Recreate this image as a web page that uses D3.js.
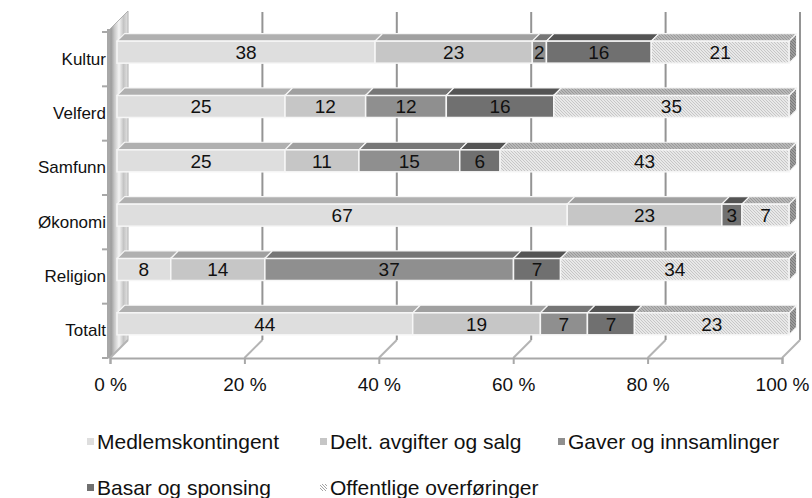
<!DOCTYPE html>
<html>
<head>
<meta charset="utf-8">
<script src="https://cdn.jsdelivr.net/npm/d3@7/dist/d3.min.js"></script>
<style>
  html, body { margin: 0; padding: 0; background: #fff; }
  svg { display: block; font-family: "Liberation Sans", Arial, sans-serif; }
</style>
</head>
<body>
<svg id="chart" width="812" height="498"></svg>
<script>
// ---- data ----
const categories = ["Kultur", "Velferd", "Samfunn", "Økonomi", "Religion", "Totalt"];
const seriesNames = ["Medlemskontingent", "Delt. avgifter og salg", "Gaver og innsamlinger", "Basar og sponsing", "Offentlige overføringer"];
const medlemskontingent = [38.4, 25, 25, 67, 8, 44];
const deltAvgifter = [23.4, 12, 11, 23, 14, 19];
const gaver = [2.1, 12, 15, 0, 37, 7];
const basar = [15.6, 16, 6, 3, 7, 7];
const offentlige = [20.5, 35, 43, 7, 34, 23];
const tickValues = [0, 20, 40, 60, 80, 100];
const tickLabels = ["0 %", "20 %", "40 %", "60 %", "80 %", "100 %"];

const seriesValues = [medlemskontingent, deltAvgifter, gaver, basar, offentlige];

// ---- layout ----
const X0 = 110, X1 = 782, YT = 32, YB = 358;
const DX = 18, DY = -18;          // full depth vector
const F0 = 0.39, F1 = 0.81;       // bar depth span (fraction of depth)
const barH = 22;

const svg = d3.select("#chart");
const defs = svg.append("defs");

const x = d3.scaleLinear().domain([0, 100]).range([X0, X1]);
const y = d3.scaleBand().domain(categories).range([YT, YB]);

const styles = [
  { front: "#dedede", top: "#b0b0b0", side: "#9a9a9a" },
  { front: "#c6c6c6", top: "#a0a0a0", side: "#8a8a8a" },
  { front: "#8f8f8f", top: "#767676", side: "#666" },
  { front: "#707070", top: "#545454", side: "#484848" },
  { front: "url(#hatchFront)", top: "url(#hatchTop)", side: "url(#hatchSide)" }
];

function hatch(id, bg, fg) {
  const p = defs.append("pattern").attr("id", id)
    .attr("patternUnits", "userSpaceOnUse").attr("width", 3).attr("height", 3);
  p.append("rect").attr("width", 3).attr("height", 3).attr("fill", bg);
  p.append("path").attr("d", "M0,0 L3,3 M-1,2 L1,4 M2,-1 L4,1")
    .attr("stroke", fg).attr("stroke-width", 0.9);
}
hatch("hatchFront", "#e8e8e8", "#c2c2c2");
hatch("hatchTop", "#b8b8b8", "#959595");
hatch("hatchSide", "#9c9c9c", "#777");
hatch("hatchLegend", "#ffffff", "#9a9a9a");

const wg = defs.append("linearGradient").attr("id", "wallGrad")
  .attr("gradientUnits", "userSpaceOnUse")
  .attr("x1", X0).attr("y1", 0).attr("x2", X0 + DX).attr("y2", 0);
[[0, "#8e8e8e"], [0.25, "#c8c8c8"], [0.5, "#f4f4f4"], [0.75, "#c4c4c4"], [1, "#e2e2e2"]]
  .forEach(([o, c]) => wg.append("stop").attr("offset", o).attr("stop-color", c));

const gridColor = "#949494";

// ---- left wall ----
svg.append("path")
  .attr("d", `M${X0},${YB} L${X0},${YT - 3} L${X0 + DX},${YT + DY - 3} L${X0 + DX},${YB + DY} Z`)
  .attr("fill", "url(#wallGrad)").attr("stroke", "#b0b0b0").attr("stroke-width", 1);
svg.append("rect").attr("x", X0 - 3).attr("y", YT - 3).attr("width", 3).attr("height", YB - YT + 3)
  .attr("fill", "#a8a8a8");

// ---- back wall gridlines ----
svg.append("g").selectAll("line").data(tickValues.filter(t => t > 0)).join("line")
  .attr("x1", d => x(d) + DX).attr("x2", d => x(d) + DX)
  .attr("y1", YT + DY - 2).attr("y2", YB + DY)
  .attr("stroke", gridColor).attr("stroke-width", 2);

// ---- floor lines ----
svg.append("g").selectAll("line").data(tickValues).join("line")
  .attr("x1", d => x(d)).attr("x2", d => x(d) + DX)
  .attr("y1", YB).attr("y2", YB + DY)
  .attr("stroke", "#b4b4b4").attr("stroke-width", 2);

// ---- x axis (front) ----
const xAxis = d3.axisBottom(x).tickValues(tickValues)
  .tickFormat((d, i) => tickLabels[i]).tickSize(6).tickPadding(14);
const gx = svg.append("g").attr("transform", `translate(0,${YB})`).call(xAxis);
gx.select(".domain").attr("stroke", "#a8a8a8").attr("stroke-width", 2);
gx.selectAll(".tick line").attr("stroke", "#a8a8a8").attr("stroke-width", 2);
gx.selectAll(".tick text").attr("font-size", 19).attr("fill", "#111")
  .attr("font-family", "Liberation Sans, Arial, sans-serif");

// ---- y axis ----
const yAxis = d3.axisLeft(y).tickSize(0).tickPadding(2);
const gy = svg.append("g").attr("transform", `translate(${X0 - 2},0)`).call(yAxis);
gy.select(".domain").attr("stroke", "#a8a8a8").attr("stroke-width", 2);
gy.selectAll(".tick text").attr("font-size", 17).attr("fill", "#111")
  .attr("font-family", "Liberation Sans, Arial, sans-serif");
svg.append("g").selectAll("line").data(d3.range(categories.length + 1)).join("line")
  .attr("x1", X0 - 8).attr("x2", X0 - 2)
  .attr("y1", i => YT + i * y.bandwidth()).attr("y2", i => YT + i * y.bandwidth())
  .attr("stroke", "#a8a8a8").attr("stroke-width", 2);

// ---- bars ----
const stackData = categories.map((c, ci) => {
  let acc = 0;
  return seriesValues.map((vals, si) => {
    const v0 = acc; acc += vals[ci];
    return { cat: c, si, v0, v1: acc, val: vals[ci] };
  }).filter(d => d.val > 0);
});

const ox0 = DX * F0, oy0 = DY * F0;
const bdx = DX * (F1 - F0), bdy = DY * (F1 - F0);
const strokeC = "#f6f6f6";

const barsG = svg.append("g");
stackData.forEach(row => {
  const g = barsG.append("g");
  row.forEach(d => {
    const xa = x(d.v0) + ox0, xb = x(d.v1) + ox0;
    const yc = y(d.cat) + y.bandwidth() / 2 + oy0;
    const ya = yc - barH / 2, yb = yc + barH / 2;
    const st = styles[d.si];
    g.append("path")
      .attr("d", `M${xb},${ya} L${xb + bdx},${ya + bdy} L${xb + bdx},${yb + bdy} L${xb},${yb} Z`)
      .attr("fill", st.side).attr("stroke", strokeC).attr("stroke-width", 1.2).attr("stroke-linejoin", "round");
    g.append("path")
      .attr("d", `M${xa},${ya} L${xa + bdx},${ya + bdy} L${xb + bdx},${ya + bdy} L${xb},${ya} Z`)
      .attr("fill", st.top).attr("stroke", strokeC).attr("stroke-width", 1.2).attr("stroke-linejoin", "round");
    g.append("rect")
      .attr("x", xa).attr("y", ya).attr("width", xb - xa).attr("height", barH)
      .attr("fill", st.front).attr("stroke", strokeC).attr("stroke-width", 1.5);
  });
  row.forEach(d => {
    const xa = x(d.v0) + ox0, xb = x(d.v1) + ox0;
    const yc = y(d.cat) + y.bandwidth() / 2 + oy0;
    g.append("text")
      .attr("x", (xa + xb) / 2).attr("y", yc + 7)
      .attr("text-anchor", "middle").attr("font-size", 19).attr("fill", "#111")
      .text(Math.round(d.val));
  });
});

// ---- legend ----
const legendItems = [
  { i: 0, x: 87, y: 442 }, { i: 1, x: 320, y: 442 }, { i: 2, x: 558, y: 442 },
  { i: 3, x: 87, y: 488 }, { i: 4, x: 320, y: 488 }
];
const legendFill = ["#dedede", "#c6c6c6", "#8f8f8f", "#707070", "url(#hatchLegend)"];
const lg = svg.append("g");
legendItems.forEach(it => {
  lg.append("rect").attr("x", it.x).attr("y", it.y - 4).attr("width", 7).attr("height", 7)
    .attr("fill", legendFill[it.i]);
  lg.append("text").attr("x", it.x + 10).attr("y", it.y + 7)
    .attr("font-size", 21).attr("fill", "#111").text(seriesNames[it.i]);
});
</script>
</body>
</html>
